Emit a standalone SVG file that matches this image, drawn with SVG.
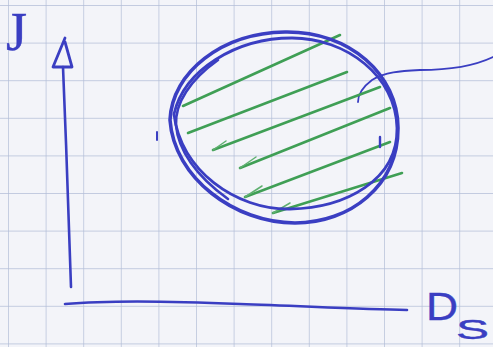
<svg xmlns="http://www.w3.org/2000/svg" width="493" height="347" viewBox="0 0 493 347">
<defs>
<style>
.ink{fill:none;stroke:#3a3ec2;stroke-linecap:round;stroke-linejoin:round}
.hatch{fill:none;stroke:#3f9f55;stroke-width:2.6;stroke-linecap:round;stroke-linejoin:round}
.arm{fill:none;stroke:#5fb070;stroke-width:1.5;stroke-linecap:round}
.lbl{font-family:"Liberation Sans",Arial,sans-serif;fill:#3a3ec2;stroke:#3a3ec2;stroke-width:0.4}
</style>
<pattern id="grid" x="8" y="5" width="37.6" height="37.6" patternUnits="userSpaceOnUse">
<path d="M0,0 V37.6 M0,0 H37.6" fill="none" stroke="#b3bed8" stroke-width="1.4"/>
</pattern>
</defs>
<rect width="493" height="347" fill="#f3f4f9"/>
<rect width="493" height="347" fill="url(#grid)"/>

<g id="connectors">
<g id="y-axis">
<path class="ink" stroke-width="2.6" d="M71,287 C69,220 66,140 63,67"/>
<path class="ink" stroke-width="2.8" d="M65,38 L53,67 L72,67 L65,42"/>
</g>
<g id="x-axis">
<path class="ink" stroke-width="2.6" d="M65,304 C110,300 170,301 240,304 C300,306 360,309 407,310"/>
</g>
<g id="pointer">
<path class="ink" stroke-width="1.8" d="M493,57 C470,68 440,70 420,70 C400,71 385,72 372,80 C364,86 358,93 358,102"/>
</g>
</g>

<g id="region">
<g id="hatching">
<path class="hatch" d="M183,106 L340,35"/>
<path class="hatch" d="M188,133 L347,72"/>
<path class="hatch" d="M213,150 L380,87"/>
<path class="arm" d="M213,150 L226,141"/>
<path class="hatch" d="M240,168 L390,108"/>
<path class="arm" d="M240,168 L256,157"/>
<path class="hatch" d="M245,197 L390,142"/>
<path class="arm" d="M245,197 L262,186"/>
<path class="hatch" d="M273,213 L402,173"/>
<path class="arm" d="M273,213 L290,203"/>
</g>
<g id="circle">
<path class="ink" stroke-width="3.6" d="M170,120 C172,72 222,33 285,32 C350,31 398,75 398,128 C398,186 350,223 295,223 C235,223 174,178 170,120 Z"/>
<path class="ink" stroke-width="2.8" d="M174,114 C184,70 236,38 292,38 C346,38 396,76 397,128 C398,180 346,208 290,209 C236,210 180,170 174,114"/>
<path class="ink" stroke-width="2.6" d="M218,60 C190,80 175,103 176,125 C178,150 196,176 228,199"/>
<path class="ink" stroke-width="2" d="M157,132 L157,140"/>
<path class="ink" stroke-width="2.4" d="M380,137 L380,147"/>
</g>
</g>

<g id="labels">
<text class="lbl" x="6" y="50" style="font-family:'Liberation Serif',serif" font-size="54">J</text>
<text class="lbl" x="426" y="320" font-size="38" textLength="32" lengthAdjust="spacingAndGlyphs">D</text>
<text class="lbl" x="456" y="339" font-size="27" textLength="33" lengthAdjust="spacingAndGlyphs">S</text>
</g>
</svg>
